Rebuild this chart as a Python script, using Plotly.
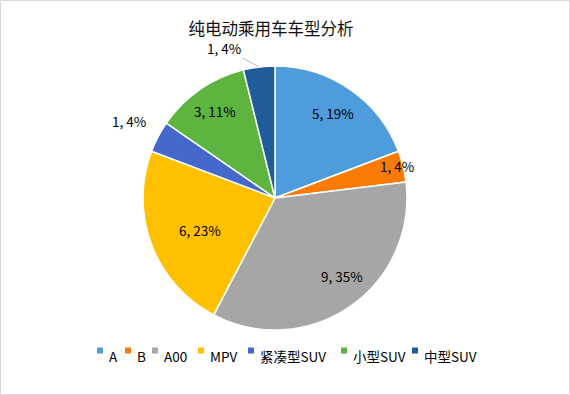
import math
import plotly.graph_objects as go

# ---- data ----
categories = ["A", "B", "A00", "MPV", "紧凑型SUV", "小型SUV", "中型SUV"]
values = [5, 1, 9, 6, 1, 3, 1]
percent_labels = [19, 4, 35, 23, 4, 11, 4]
colors = ["#4E9CDC", "#F97B06", "#A6A6A6", "#FFC000", "#4468CC", "#5DB43F", "#1F5C99"]

# ---- layout constants ----
W, H = 570, 395
mt, mb = 66, 65
ph = H - mt - mb            # plot area height (px)
cx, cy, R = 275, 198, 132   # pie centre / radius in page px
label_radius = [0.78, 0.96, 0.78, 0.62, 1.25, 0.80, None]
label_angle_offset = [0, -1, -6, -2, 0, 0, 0]
legend_marker_x = [97, 125, 152, 198, 248, 341, 412]
FONT = "Noto Sans CJK SC, Open Sans, sans-serif"


def px_x(x):
    return x / W


def px_y(y):
    return (H - mb - y) / ph


fig = go.Figure(go.Pie(
    labels=categories,
    values=values,
    sort=False,
    direction="clockwise",
    rotation=0,
    marker=dict(colors=colors, line=dict(color="white", width=1.5)),
    textinfo="none",
    automargin=False,
    domain=dict(x=[0, 550 / 570], y=[0, 1]),
    showlegend=False,
    hoverinfo="label+value+percent",
))

annotations = []
total = sum(values)
cum = 0
for cat, v, p, f, da in zip(categories, values, percent_labels, label_radius, label_angle_offset):
    mid = (cum + v / 2) / total * 2 * math.pi
    cum += v
    txt = f"{v}, {p}%"
    if f is not None:
        a = mid + math.radians(da)
        lx = cx + f * R * math.sin(a)
        ly = cy - f * R * math.cos(a)
        annotations.append(dict(x=px_x(lx), y=px_y(ly), xref="paper", yref="paper",
                                text=txt, showarrow=False, xanchor="center", yanchor="middle",
                                font=dict(size=13.5, color="black", family=FONT)))
    else:
        ex = cx + R * math.sin(mid)
        ey = cy - R * math.cos(mid)
        annotations.append(dict(x=px_x(ex), y=px_y(ey), xref="paper", yref="paper",
                                text=txt, showarrow=True, arrowhead=0, arrowwidth=0.8,
                                arrowcolor="#A6A6A6", ax=-35, ay=-19,
                                font=dict(size=13.5, color="black", family=FONT)))

shapes = [dict(type="rect", xref="paper", yref="paper",
               x0=px_x(0.5), x1=px_x(W - 0.5), y0=px_y(H - 0.5), y1=px_y(0.5),
               line=dict(color="#D9D9D9", width=1), fillcolor="rgba(0,0,0,0)", layer="below")]

# compact legend
for cat, col, mx in zip(categories, colors, legend_marker_x):
    shapes.append(dict(type="rect", xref="paper", yref="paper",
                       x0=px_x(mx), x1=px_x(mx + 6), y0=px_y(353.5), y1=px_y(347.5),
                       line=dict(width=0), fillcolor=col))
    annotations.append(dict(x=px_x(mx + 9.5), y=px_y(355.5), xref="paper", yref="paper",
                            text=cat, showarrow=False, xanchor="left", yanchor="middle",
                            font=dict(size=13.5, color="black", family=FONT)))

fig.update_layout(
    width=W, height=H,
    margin=dict(l=0, r=0, t=mt, b=mb),
    paper_bgcolor="white",
    plot_bgcolor="white",
    font=dict(family=FONT, color="black"),
    title=dict(text="纯电动乘用车车型分析", x=271 / W, xanchor="center",
               y=1 - 29 / H, yanchor="middle", yref="container", xref="container",
               font=dict(size=16.5, color="#111111", family=FONT)),
    showlegend=False,
    shapes=shapes,
    annotations=annotations,
)

fig.write_html("out.html", config={"displayModeBar": False},
               post_script="document.body.style.margin='0';")
